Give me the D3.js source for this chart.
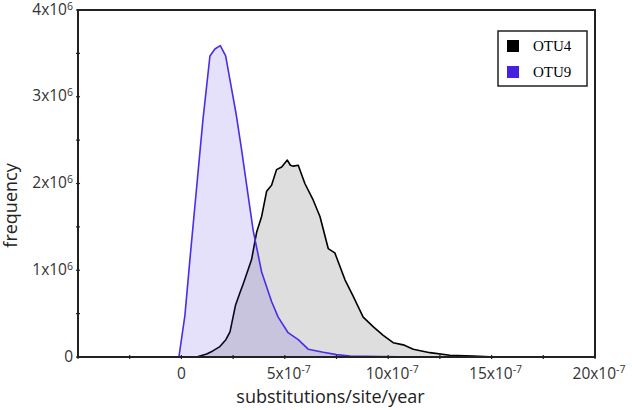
<!DOCTYPE html>
<html>
<head>
<meta charset="utf-8">
<script src="https://cdn.jsdelivr.net/npm/d3@7"></script>
<style>
  html, body { margin: 0; padding: 0; background: #fff; }
  svg { display: block; }
  .tick-label { font-family: "Open Sans", "Noto Sans", sans-serif; font-size: 15.5px; fill: #333; }
  .axis-title { font-family: "Open Sans", "Noto Sans", sans-serif; font-size: 18px; fill: #222; }
  .legend-text { font-family: "Liberation Serif", serif; font-size: 15px; fill: #000; }
</style>
</head>
<body>
<script>
// substitutions/site/year (x) and frequency (y)
const xOTU4 = [0.41e-7, 0.73e-7, 1.22e-7, 1.52e-7, 1.86e-7, 2.15e-7, 2.35e-7, 2.62e-7, 2.83e-7, 3.0e-7, 3.39e-7, 3.64e-7, 3.88e-7, 4.12e-7, 4.36e-7, 4.60e-7, 4.85e-7, 5.12e-7, 5.27e-7, 5.41e-7, 5.65e-7, 5.97e-7, 6.37e-7, 6.70e-7, 7.10e-7, 7.42e-7, 7.91e-7, 8.31e-7, 8.79e-7, 9.27e-7, 9.76e-7, 10.24e-7, 10.73e-7, 11.21e-7, 12.02e-7, 12.98e-7, 14.11e-7, 14.92e-7, 16.4e-7, 20e-7];
const yOTU4 = [0, 0, 0.035e6, 0.07e6, 0.12e6, 0.20e6, 0.29e6, 0.60e6, 0.74e6, 0.85e6, 1.12e6, 1.44e6, 1.62e6, 1.91e6, 1.98e6, 2.16e6, 2.19e6, 2.27e6, 2.21e6, 2.20e6, 2.21e6, 2.00e6, 1.81e6, 1.62e6, 1.25e6, 1.20e6, 0.89e6, 0.70e6, 0.46e6, 0.35e6, 0.25e6, 0.165e6, 0.14e6, 0.089e6, 0.05e6, 0.02e6, 0.012e6, 0.003e6, 0, 0];

const xOTU9 = [-0.12e-7, 0.17e-7, 0.41e-7, 0.77e-7, 1.04e-7, 1.38e-7, 1.62e-7, 1.88e-7, 2.14e-7, 2.39e-7, 2.64e-7, 2.91e-7, 3.12e-7, 3.47e-7, 3.88e-7, 4.36e-7, 4.68e-7, 5.16e-7, 5.65e-7, 6.13e-7, 6.86e-7, 7.50e-7, 8.15e-7, 9.6e-7, 11.5e-7, 20e-7];
const yOTU9 = [0, 0.48e6, 1.12e6, 2.04e6, 2.73e6, 3.47e6, 3.55e6, 3.59e6, 3.47e6, 3.14e6, 2.81e6, 2.39e6, 2.04e6, 1.46e6, 0.98e6, 0.64e6, 0.46e6, 0.28e6, 0.20e6, 0.09e6, 0.054e6, 0.027e6, 0.012e6, 0.004e6, 0, 0];

const seriesNames = ["OTU4", "OTU9"];
const xTicksMajor = [0, 5e-7, 10e-7, 15e-7, 20e-7];
const xTickLabels = [["0", ""], ["5x10", "-7"], ["10x10", "-7"], ["15x10", "-7"], ["20x10", "-7"]];
const yTicksMajor = [0, 1e6, 2e6, 3e6, 4e6];
const yTickLabels = [["0", ""], ["1x10", "6"], ["2x10", "6"], ["3x10", "6"], ["4x10", "6"]];

const W = 632, H = 410;
const m = { left: 78, right: 37, top: 10, bottom: 53 };

const svg = d3.select("body").append("svg").attr("width", W).attr("height", H);

const x = d3.scaleLinear().domain([-5e-7, 20e-7]).range([m.left, W - m.right]);
const y = d3.scaleLinear().domain([0, 4e6]).range([H - m.bottom, m.top]);

const colors = { OTU4: "#000000", OTU9: "#4a2de6" };
const fills = { OTU4: "#dedede", OTU9: "rgba(75,45,230,0.14)" };

const area = d3.area().x(d => x(d[0])).y0(y(0)).y1(d => y(d[1]));
const line = d3.line().x(d => x(d[0])).y(d => y(d[1]));

const d4 = xOTU4.map((v, i) => [v, yOTU4[i]]);
const d9 = xOTU9.map((v, i) => [v, yOTU9[i]]);

svg.append("path").datum(d4).attr("d", area).attr("fill", fills.OTU4);
svg.append("path").datum(d4).attr("d", line).attr("fill", "none").attr("stroke", colors.OTU4).attr("stroke-width", 1.6).attr("stroke-linejoin", "round");
svg.append("path").datum(d9).attr("d", area).attr("fill", fills.OTU9);
svg.append("path").datum(d9).attr("d", line).attr("fill", "none").attr("stroke", colors.OTU9).attr("stroke-width", 1.6).attr("stroke-linejoin", "round");

// frame
svg.append("rect").attr("x", m.left).attr("y", m.top)
  .attr("width", W - m.right - m.left).attr("height", H - m.bottom - m.top)
  .attr("fill", "none").attr("stroke", "#222").attr("stroke-width", 2);

// ticks (major + minor)
const xAll = d3.range(-5e-7, 20.01e-7, 2.5e-7);
svg.selectAll(".xt").data(xAll).enter().append("line")
  .attr("x1", d => x(d)).attr("x2", d => x(d))
  .attr("y1", y(0) - 2).attr("y2", y(0) + 2)
  .attr("stroke", "#222").attr("stroke-width", 1.2);
const yAll = d3.range(0, 4.01e6, 0.5e6);
svg.selectAll(".yt").data(yAll).enter().append("line")
  .attr("x1", m.left - 2).attr("x2", m.left + 2)
  .attr("y1", d => y(d)).attr("y2", d => y(d))
  .attr("stroke", "#222").attr("stroke-width", 1.2);

// x tick labels
xTicksMajor.forEach((v, i) => {
  const t = svg.append("text").attr("class", "tick-label")
    .attr("x", x(v) + (xTickLabels[i][1] ? 4 : 0)).attr("y", y(0) + 22).attr("text-anchor", "middle");
  t.append("tspan").text(xTickLabels[i][0]);
  if (xTickLabels[i][1]) t.append("tspan").attr("dy", -6).attr("font-size", 10.5).text(xTickLabels[i][1]);
});
// y tick labels
yTicksMajor.forEach((v, i) => {
  const t = svg.append("text").attr("class", "tick-label")
    .attr("x", m.left - 5).attr("y", y(v) + 4.5).attr("text-anchor", "end");
  t.append("tspan").text(yTickLabels[i][0]);
  if (yTickLabels[i][1]) t.append("tspan").attr("dy", -5).attr("font-size", 10.5).text(yTickLabels[i][1]);
});

// axis titles
svg.append("text").attr("class", "axis-title")
  .attr("x", (m.left + W - m.right) / 2 - 6).attr("y", 403).attr("text-anchor", "middle")
  .text("substitutions/site/year");
svg.append("text").attr("class", "axis-title")
  .attr("transform", `translate(17,${(m.top + H - m.bottom) / 2 + 22}) rotate(-90)`)
  .attr("text-anchor", "middle").text("frequency");

// legend
const lg = svg.append("g");
lg.append("rect").attr("x", 498).attr("y", 31).attr("width", 89).attr("height", 55)
  .attr("fill", "#fff").attr("stroke", "#222").attr("stroke-width", 1.5);
const legendColors = { OTU4: "#000000", OTU9: "#4422e0" };
seriesNames.forEach((s, i) => {
  lg.append("rect").attr("x", 507).attr("y", 40 + i * 26).attr("width", 12).attr("height", 12)
    .attr("fill", legendColors[s]);
  lg.append("text").attr("class", "legend-text").attr("x", 533).attr("y", 51 + i * 26).text(s);
});
</script>
</body>
</html>
